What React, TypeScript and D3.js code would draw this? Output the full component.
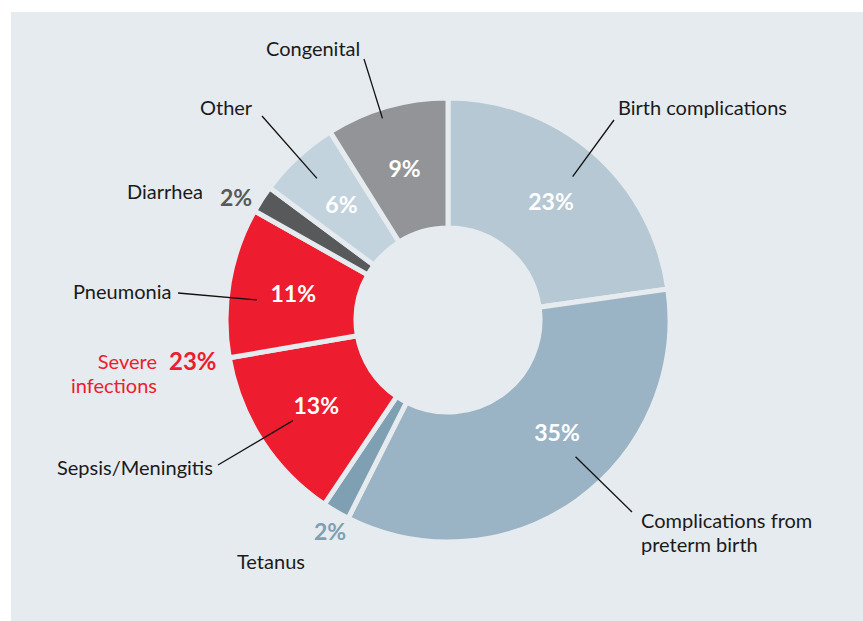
import React from "react";
import * as d3 from "d3";

const categories = [
  "Birth complications",
  "Complications from preterm birth",
  "Tetanus",
  "Sepsis/Meningitis",
  "Pneumonia",
  "Diarrhea",
  "Other",
  "Congenital",
];
const values = [23, 35, 2, 13, 11, 2, 6, 9];
const colors = ["#b5c8d3", "#9bb4c5", "#7f9fb2", "#ed1c2e", "#ed1c2e", "#58595b", "#c3d3de", "#939497"];
const inside = [true, true, false, true, true, false, true, true];

const W = 863;
const H = 621;
const BG = "#e6ebef";
const cx = 448;
const cy = 320;
const outerR = 222;
const innerR = 92;
const FONT = "Lato, 'Open Sans', sans-serif";

// label layout: text lines, anchor position, leader start, leader radius
const labelLayout = [
  { lines: ["Birth complications"], x: 618, y: 115, anchor: "start", lx: 614, ly: 120, lr: 190 },
  { lines: ["Complications from", "preterm birth"], x: 641, y: 528, anchor: "start", lx: 632, ly: 512, lr: 187, la: 137 },
  { lines: ["Tetanus"], x: 237, y: 569, anchor: "start" },
  { lines: ["Sepsis/Meningitis"], x: 57, y: 475, anchor: "start", lx: 218, ly: 465, lr: 185 },
  { lines: ["Pneumonia"], x: 73, y: 299, anchor: "start", lx: 178, ly: 293, lr: 192, la: 276 },
  { lines: ["Diarrhea"], x: 203, y: 199, anchor: "end" },
  { lines: ["Other"], x: 200, y: 115, anchor: "start", lx: 262, ly: 116, lr: 193 },
  { lines: ["Congenital"], x: 266, y: 56, anchor: "start", lx: 364, ly: 59, lr: 212, la: 342 },
];
const outsidePct = [null, null, { x: 330, y: 540, color: "#7f9fb2" }, null, null, { x: 236, y: 206, color: "#58595b" }, null, null];
const pctAngleOverride = [null, 136, null, null, null, null, null, null];

export default function App() {
  const pie = d3.pie<number>().sort(null).value((d) => d);
  const arcs = pie(values);
  const arc = d3.arc<d3.PieArcDatum<number>>().innerRadius(innerR).outerRadius(outerR);
  const toRad = (deg: number) => (deg * Math.PI) / 180;
  const polar = (a: number, r: number) => [cx + r * Math.sin(a), cy - r * Math.cos(a)];

  return (
    <svg width={W} height={H} style={{ position: "absolute", left: 0, top: 0 }}>
      <rect x={0} y={0} width={W} height={H} fill="#ffffff" />
      <rect x={11} y={12} width={W - 11} height={H - 12} fill={BG} />
      <g transform={`translate(${cx},${cy})`}>
        {arcs.map((a, i) => (
          <path key={i} d={arc(a) || ""} fill={colors[i]} stroke={BG} strokeWidth={5} strokeLinejoin="miter" />
        ))}
      </g>
      {arcs.map((a, i) => {
        const L = labelLayout[i];
        if (L.lx === undefined) return null;
        const ang = L.la !== undefined ? toRad(L.la) : (a.startAngle + a.endAngle) / 2;
        const [ex, ey] = polar(ang, L.lr as number);
        return <line key={"l" + i} x1={L.lx} y1={L.ly} x2={ex} y2={ey} stroke="#111" strokeWidth={1.3} />;
      })}
      {arcs.map((a, i) => {
        if (!inside[i]) return null;
        const ang = pctAngleOverride[i] !== null ? toRad(pctAngleOverride[i] as number) : (a.startAngle + a.endAngle) / 2;
        const [px, py] = polar(ang, 157);
        return (
          <text key={"p" + i} x={px} y={py} dy="0.36em" textAnchor="middle" fontFamily={FONT} fontWeight={700} fontSize={23} fill="#ffffff">
            {Math.round(values[i])}%
          </text>
        );
      })}
      {outsidePct.map((o, i) =>
        o ? (
          <text key={"o" + i} x={o.x} y={o.y} textAnchor="middle" fontFamily={FONT} fontWeight={700} fontSize={23} fill={o.color}>
            {values[i]}%
          </text>
        ) : null
      )}
      {labelLayout.map((L, i) => (
        <text key={"t" + i} x={L.x} y={L.y} textAnchor={L.anchor as any} fontFamily={FONT} fontSize={20} fill="#1a1a1a">
          {L.lines.map((s, j) => (
            <tspan key={j} x={L.x} dy={j === 0 ? 0 : 24}>
              {s}
            </tspan>
          ))}
        </text>
      ))}
      <text x={157} y={369} textAnchor="end" fontFamily={FONT} fontSize={20} fill="#ed1c2e">
        <tspan x={157} dy={0}>Severe</tspan>
        <tspan x={157} dy={24}>infections</tspan>
      </text>
      <text x={169} y={370} fontFamily={FONT} fontWeight={700} fontSize={24} fill="#ed1c2e">
        {values[3] + values[4] - 1}%
      </text>
    </svg>
  );
}
